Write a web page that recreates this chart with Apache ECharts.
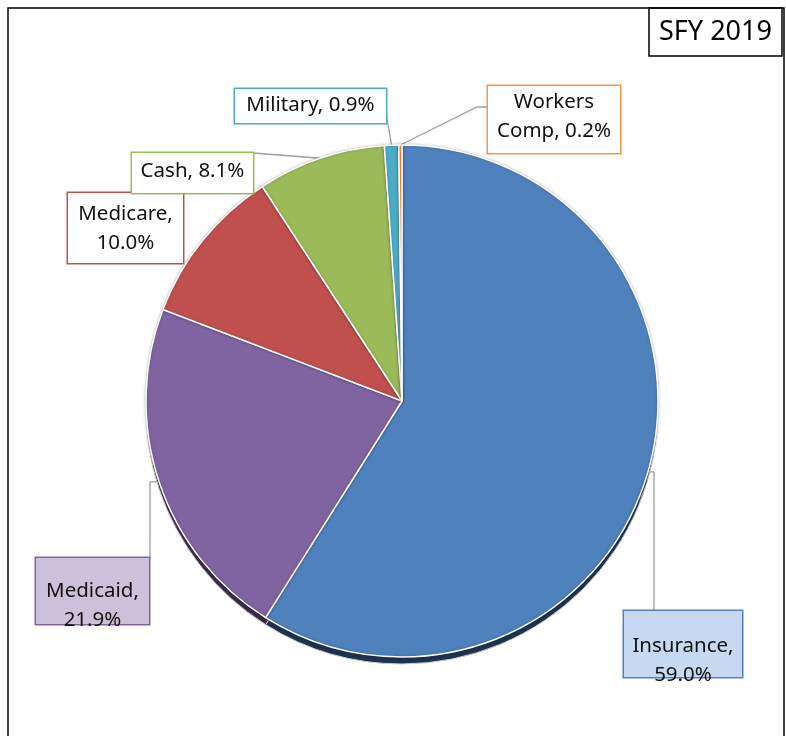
<!DOCTYPE html>
<html>
<head>
<meta charset="utf-8">
<script src="https://cdn.jsdelivr.net/npm/echarts@6/dist/echarts.min.js"></script>
<style>
  html, body { margin: 0; padding: 0; background: #fff; }
  #main { width: 786px; height: 736px; }
</style>
</head>
<body>
<div id="main"></div>
<script>
let categories = ['Insurance', 'Medicaid', 'Medicare', 'Cash', 'Military', 'Workers Comp'];
let shares = [59.0, 21.9, 10.0, 8.1, 0.9, 0.2];
let faceColors = ['#4f81bd', '#8064a2', '#c0504d', '#9bbb59', '#4bacc6', '#f79646'];
let rimColors = ['#1d3350', '#3b2c4f', '#5a2422', '#48582a', '#22525e', '#774620'];

// label boxes placed by hand, like the source chart (left, top, width, height, text top pad)
let boxes = [
  { x: 624, y: 611, w: 118, h: 66, pt: 21, fill: '#c6d9f1', wrap: 'comma', via: [[654, null], [654, 611]] },
  { x: 36, y: 558, w: 113, h: 66, pt: 19, fill: '#ccc1da', wrap: 'comma', via: [[150, null], [150, 558]] },
  { x: 68, y: 193, w: 115, h: 70, pt: 7, fill: '#ffffff', wrap: 'comma', via: null },
  { x: 132, y: 153, w: 121, h: 40, pt: 4, fill: '#ffffff', wrap: 'none', via: [[253, 153]] },
  { x: 235, y: 89, w: 151, h: 34, pt: 2, fill: '#ffffff', wrap: 'none', via: [[386, 113]] },
  { x: 488, y: 86, w: 132, h: 67, pt: 2, fill: '#ffffff', wrap: 'name', via: [[477, 107], [488, 107]] }
];

let myChart = echarts.init(document.getElementById('main'));

function labelText(name, value, wrap) {
  let v = value.toFixed(1) + '%';
  if (wrap === 'comma') return name + ',\n' + v;
  if (wrap === 'name') return name.replace(' ', '\n') + ', ' + v;
  return name + ', ' + v;
}

let faceData = categories.map(function (name, i) {
  let b = boxes[i];
  return {
    name: name,
    value: shares[i],
    itemStyle: { color: faceColors[i] },
    label: {
      formatter: labelText(name, shares[i], b.wrap),
      backgroundColor: b.fill,
      borderColor: faceColors[i],
      borderWidth: 1.5,
      width: b.w,
      height: b.h - b.pt,
      padding: [b.pt, 0, 0, 0]
    },
    labelLine: { show: b.via !== null }
  };
});

let rimData = categories.map(function (name, i) {
  return { name: name, value: shares[i], itemStyle: { color: rimColors[i] } };
});

let option = {
  animation: false,
  backgroundColor: '#fff',
  title: {
    text: 'SFY 2019',
    left: 649,
    top: 8,
    padding: [8, 10, 8, 10],
    borderColor: '#000',
    borderWidth: 1.5,
    textStyle: {
      fontFamily: 'Noto Sans',
      fontSize: 27,
      fontWeight: 'normal',
      color: '#000',
      lineHeight: 32
    }
  },
  graphic: [
    {
      type: 'rect',
      z: 0,
      shape: { x: 8, y: 8, width: 776, height: 760 },
      style: { fill: 'none', stroke: '#000', lineWidth: 1.5 }
    }
  ],
  series: [
    {
      type: 'pie',
      silent: true,
      center: [402, 408],
      radius: 256,
      startAngle: 90,
      clockwise: true,
      label: { show: false },
      labelLine: { show: false },
      itemStyle: { borderColor: '#cfcfcf', borderWidth: 1 },
      data: rimData
    },
    {
      type: 'pie',
      center: [402, 401],
      radius: 256,
      startAngle: 90,
      clockwise: true,
      avoidLabelOverlap: false,
      itemStyle: {
        borderColor: '#fff',
        borderWidth: 1.5,
        shadowBlur: 3,
        shadowColor: 'rgba(0,0,0,0.25)'
      },
      label: {
        show: true,
        position: 'outside',
        fontFamily: 'Noto Sans',
        fontSize: 20.5,
        lineHeight: 29,
        color: '#111',
        align: 'center'
      },
      labelLine: {
        show: true,
        length: 10,
        length2: 10,
        lineStyle: { color: '#9e9e9e', width: 1.3 }
      },
      labelLayout: function (p) {
        let b = boxes[p.dataIndex];
        let out = {
          x: b.x + b.w / 2,
          y: b.y,
          align: 'center',
          verticalAlign: 'top'
        };
        if (b.via && p.labelLinePoints) {
          let e = p.labelLinePoints[0];
          let pts = [[e[0], e[1]]];
          b.via.forEach(function (q) {
            pts.push([q[0], q[1] === null ? e[1] : q[1]]);
          });
          if (pts.length < 3) pts.push(pts[pts.length - 1].slice());
          out.labelLinePoints = pts;
        }
        return out;
      },
      emphasis: { scale: false },
      data: faceData
    }
  ]
};

myChart.setOption(option);
</script>
</body>
</html>
